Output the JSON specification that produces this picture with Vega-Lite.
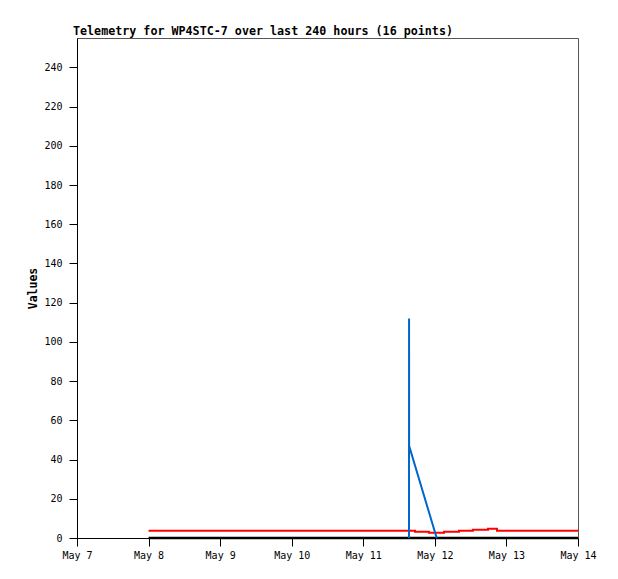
{
  "$schema": "https://vega.github.io/schema/vega-lite/v6.json",
  "width": 501,
  "height": 500,
  "autosize": {"type": "none"},
  "padding": {"left": 77, "top": 38, "right": 40, "bottom": 41},
  "background": "white",
  "config": {
    "font": "DejaVu Sans Mono",
    "view": {"stroke": "#555555", "strokeWidth": 1},
    "axis": {
      "grid": false,
      "domainColor": "black",
      "tickColor": "black",
      "labelColor": "black",
      "labelFont": "DejaVu Sans Mono",
      "labelFontSize": 10,
      "titleFont": "DejaVu Sans Mono",
      "titleFontSize": 11.5,
      "titleFontWeight": "bold",
      "titleColor": "black",
      "tickSize": 8
    }
  },
  "title": {
    "text": "Telemetry for WP4STC-7 over last 240 hours (16 points)",
    "anchor": "start",
    "frame": "group",
    "font": "DejaVu Sans Mono",
    "fontSize": 11.7,
    "fontWeight": "bold",
    "color": "black",
    "offset": 0,
    "dx": -4
  },
  "data": {
    "values": [
      {"series": "red", "t": "2024-05-08T00:00:00Z", "v": 3.7},
      {"series": "red", "t": "2024-05-11T17:20:00Z", "v": 3.2},
      {"series": "red", "t": "2024-05-11T22:00:00Z", "v": 2.7},
      {"series": "red", "t": "2024-05-12T03:05:00Z", "v": 3.2},
      {"series": "red", "t": "2024-05-12T08:05:00Z", "v": 3.7},
      {"series": "red", "t": "2024-05-12T12:45:00Z", "v": 4.2},
      {"series": "red", "t": "2024-05-12T17:50:00Z", "v": 4.75},
      {"series": "red", "t": "2024-05-12T20:50:00Z", "v": 3.7},
      {"series": "red", "t": "2024-05-14T00:00:00Z", "v": 3.7},
      {"series": "blue", "t": "2024-05-11T15:20:00Z", "v": 0},
      {"series": "blue", "t": "2024-05-11T15:21:00Z", "v": 112},
      {"series": "blue", "t": "2024-05-11T15:22:00Z", "v": 47},
      {"series": "blue", "t": "2024-05-12T00:37:00Z", "v": 0},
      {"series": "black", "t": "2024-05-08T00:00:00Z", "v": 0},
      {"series": "black", "t": "2024-05-14T00:00:00Z", "v": 0}
    ]
  },
  "encoding": {
    "x": {
      "field": "t",
      "type": "temporal",
      "scale": {
        "type": "utc",
        "domain": [
          {"year": 2024, "month": 5, "date": 7, "utc": true},
          {"year": 2024, "month": 5, "date": 14, "utc": true}
        ]
      },
      "axis": {
        "title": null,
        "labelExpr": "utcFormat(datum.value, '%b %-d')",
        "labelPadding": 4,
        "labelFlush": false,
        "labelOverlap": false,
        "labelBound": false,
        "values": [
          {"year": 2024, "month": 5, "date": 7, "utc": true},
          {"year": 2024, "month": 5, "date": 8, "utc": true},
          {"year": 2024, "month": 5, "date": 9, "utc": true},
          {"year": 2024, "month": 5, "date": 10, "utc": true},
          {"year": 2024, "month": 5, "date": 11, "utc": true},
          {"year": 2024, "month": 5, "date": 12, "utc": true},
          {"year": 2024, "month": 5, "date": 13, "utc": true},
          {"year": 2024, "month": 5, "date": 14, "utc": true}
        ]
      }
    },
    "y": {
      "field": "v",
      "type": "quantitative",
      "scale": {"domain": [0, 255], "nice": false},
      "axis": {
        "title": "Values",
        "values": [0, 20, 40, 60, 80, 100, 120, 140, 160, 180, 200, 220, 240],
        "labelPadding": 7,
        "titlePadding": 5
      }
    }
  },
  "layer": [
    {
      "transform": [{"filter": "datum.series === 'black'"}],
      "mark": {"type": "line", "color": "black", "strokeWidth": 2.5}
    },
    {
      "transform": [{"filter": "datum.series === 'red'"}],
      "mark": {"type": "line", "color": "#ff0000", "strokeWidth": 2, "interpolate": "step-after"}
    },
    {
      "transform": [{"filter": "datum.series === 'blue'"}],
      "mark": {"type": "line", "color": "#0066cc", "strokeWidth": 2}
    }
  ]
}
